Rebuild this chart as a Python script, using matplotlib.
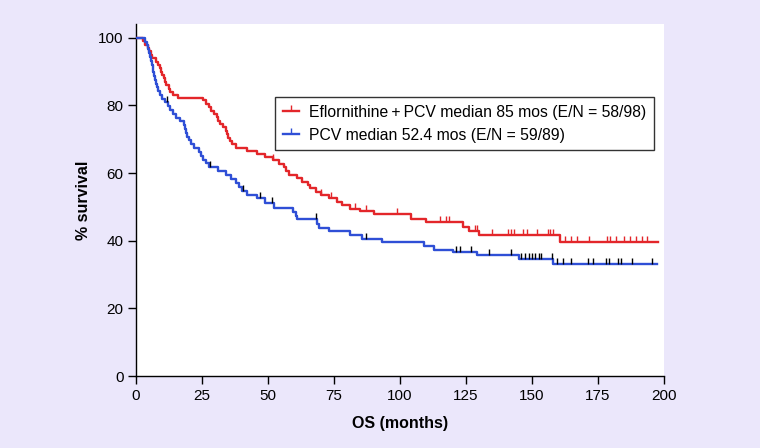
import numpy as np
import matplotlib
matplotlib.use('Agg')
import matplotlib.pyplot as plt
from matplotlib.lines import Line2D

plt.rcParams['font.family'] = ['Liberation Sans', 'DejaVu Sans']

BG = "#ebe7fb"
RED = "#e3262a"
BLUE = "#2f4fd6"

# Kaplan-Meier steps: (month, % survival after the step)
red_t = [0, 2.5, 3.5, 4.5, 5, 5.5, 6, 7.5, 8.5, 9, 9.5, 10, 10.5, 11, 11.5, 12.5,
         13, 14, 16, 25.5, 26.5, 27.5, 28.5, 29.5, 30.5, 31, 32, 33, 34, 34.5, 35,
         35.5, 36.5, 38, 42, 46, 49, 52, 54, 56, 57, 58, 61, 63, 65, 66, 68, 70,
         73, 76, 78, 81, 85, 90, 104, 110, 124, 126, 130, 160.6]
red_s = [100, 99, 98, 97, 96, 95, 94, 93, 92, 91, 90, 89, 88, 87, 86, 85,
         84, 83, 82.3, 81.5, 80.5, 79.5, 78.5, 77.5, 76.5, 75.5, 74.5, 73.5, 72.5, 71.5, 70.5,
         69.5, 68.5, 67.5, 66.5, 65.8, 64.8, 63.8, 62.8, 61.8, 60.5, 59.5, 58.5, 57.5, 56.5, 55.5, 54.5, 53.5,
         52.5, 51.5, 50.5, 49.5, 48.8, 48, 46.5, 45.5, 44.2, 43, 41.8, 39.6]
red_end = 197.7

blue_t = [0, 3.4, 4, 4.5, 5, 5.3, 5.6, 6, 6.3, 6.6, 7, 7.3, 7.6, 8, 8.5, 9, 10,
          11, 12, 13, 14, 15, 16.5, 18, 18.5, 19, 19.5, 20, 21, 22, 24, 24.5, 25.5,
          26.5, 27.5, 31, 34, 36, 38, 39, 40, 42, 46, 49, 52.4, 59.5, 60.5, 61, 68.5,
          69.5, 73, 81, 85.5, 93, 109, 113, 120, 129, 145, 158]
blue_s = [100, 98.9, 97.8, 96.6, 95.5, 94.4, 93.3, 92, 91, 89.9, 88.8, 87.6, 86.5, 85.4, 84.3, 83.1, 82,
          80.9, 79.8, 78.7, 77.5, 76.4, 75.3, 74.2, 73, 71.9, 70.8, 69.7, 68.5, 67.4, 66.3, 65.2, 64,
          62.9, 61.8, 60.6, 59.5, 58.3, 57.1, 56, 54.8, 53.6, 52.5, 51.3, 49.8, 48.6, 47.3, 46.3, 45.1,
          43.9, 42.8, 41.6, 40.4, 39.5, 38.5, 37.4, 36.7, 35.8, 34.6, 33]
blue_end = 197.5

# censored observations (months)
red_cens = [52, 70, 74, 83, 87, 99, 115, 117.6, 118.6, 128.5, 129, 135, 141, 142, 143,
            146.6, 148, 152, 156, 157, 157.8, 162.5, 164.8, 167, 171.6, 178.4, 179.6,
            182, 185, 187, 189.5, 191.7, 193.6]
blue_cens = [11.6, 28, 40.5, 47, 51.4, 68, 87, 121.4, 122.7, 126.8, 133.7, 141.9, 146,
             147.5, 149, 150, 151, 152.5, 153.5, 157.4, 159.4, 161.8, 164.7, 171.2, 173,
             178, 179, 182.6, 183.7, 188, 195.3]

labels = ["Eflornithine\u2009+\u2009PCV median 85 mos (E/N = 58/98)",
          "PCV median 52.4 mos (E/N = 59/89)"]


def km_at(t, s, x):
    i = np.searchsorted(t, x, side='right') - 1
    return np.asarray(s)[i]


fig = plt.figure(figsize=(7.6, 4.48), dpi=100, facecolor=BG)
ax = fig.add_axes([136 / 760, 72 / 448, 528 / 760, 352 / 448])
ax.set_facecolor("white")

for t, s, end, cens, col, tick_col in [(red_t, red_s, red_end, red_cens, RED, RED),
                                       (blue_t, blue_s, blue_end, blue_cens, BLUE, "black")]:
    ax.step(list(t) + [end], list(s) + [s[-1]], where='post', color=col, lw=1.7, zorder=3)
    ax.plot(cens, km_at(t, s, cens), linestyle='none', marker=2, markersize=4,
            mew=1.0, color=tick_col, zorder=4)

ax.set_xlim(0, 200)
ax.set_ylim(0, 104.1)
ax.set_xticks(np.arange(0, 201, 25))
ax.set_yticks(np.arange(0, 101, 20))
for side in ("top", "right"):
    ax.spines[side].set_visible(False)
for side in ("left", "bottom"):
    ax.spines[side].set_linewidth(1.0)
ax.tick_params(direction='out', length=6, width=1, labelsize=11, pad=3)

ax.set_xlabel("OS (months)", fontsize=11.5, fontweight="bold", labelpad=10)
ax.set_ylabel("% survival", fontsize=11.5, fontweight="bold", labelpad=5)

handles = [Line2D([], [], color=RED, lw=1.7, marker=2, markersize=4, mew=1.0),
           Line2D([], [], color=BLUE, lw=1.7, marker=2, markersize=4, mew=1.0)]
leg = ax.legend(handles, labels, loc='upper left', bbox_to_anchor=(0.263, 0.793),
                borderaxespad=0, fontsize=11.3, frameon=True, fancybox=False,
                handlelength=1.05, handletextpad=0.65, labelspacing=0.5,
                borderpad=0.5, numpoints=1)
leg.get_frame().set_edgecolor("black")
leg.get_frame().set_linewidth(1.0)

fig.savefig("out.png", dpi=100, facecolor=BG)
